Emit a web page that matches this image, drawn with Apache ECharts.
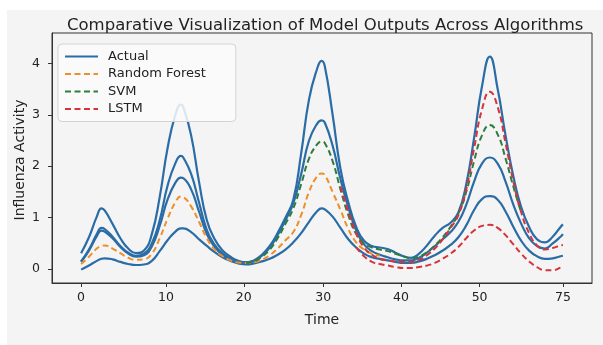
<!DOCTYPE html>
<html>
<head>
<meta charset="utf-8">
<script src="https://cdn.jsdelivr.net/npm/echarts@6/dist/echarts.min.js"></script>
<style>
  html, body { margin: 0; padding: 0; background: #ffffff; }
  #bg { position: absolute; left: 7px; top: 10px; width: 596px; height: 335px; background: #f4f4f4; }
  #chart { position: absolute; left: 0; top: 0; width: 603px; height: 345px; }
</style>
</head>
<body>
<div id="bg"></div>
<div id="chart"></div>
<script>
// time positions (axis units) and where the tick labels sit
var time = [0, 1, 2, 2.6, 3, 4, 5, 6, 7, 8, 9, 10, 11, 12, 12.7, 13, 14, 15, 16, 17, 18, 19, 20, 21, 22, 23, 24, 25, 26, 27, 28, 29, 30, 30.6, 31, 32, 33, 34, 35, 36, 37, 38, 39, 40, 41, 42, 43, 44, 45, 46, 47, 48, 49, 50, 51, 52, 53, 54, 55, 56, 57, 58, 59, 60, 61, 61.3];
var tickPos = [0, 10.8, 20.7, 30.8, 40.7, 50.7, 61.3];
var tickLabels = ["0", "10", "20", "30", "40", "50", "75"];
var yTicks = [0, 1, 2, 3, 4];

// actual (blue) curves
var actualA = [0.31, 0.62, 1.02, 1.18, 1.14, 0.88, 0.6, 0.4, 0.31, 0.36, 0.68, 1.4, 2.35, 3.0, 3.2, 3.15, 2.6, 1.7, 0.95, 0.58, 0.36, 0.24, 0.16, 0.13, 0.17, 0.28, 0.45, 0.7, 1.0, 1.35, 2.25, 3.3, 3.88, 4.05, 3.95, 3.0, 1.95, 1.3, 0.82, 0.55, 0.45, 0.42, 0.39, 0.32, 0.25, 0.22, 0.3, 0.46, 0.65, 0.8, 0.9, 1.1, 1.65, 2.55, 3.55, 4.13, 3.5, 2.6, 1.8, 1.2, 0.82, 0.58, 0.52, 0.63, 0.82, 0.87];
var actualB = [0.15, 0.38, 0.68, 0.8, 0.78, 0.63, 0.45, 0.32, 0.26, 0.3, 0.5, 0.95, 1.62, 2.06, 2.2, 2.17, 1.85, 1.3, 0.76, 0.47, 0.3, 0.2, 0.15, 0.13, 0.16, 0.26, 0.42, 0.66, 0.95, 1.28, 1.85, 2.5, 2.82, 2.89, 2.85, 2.4, 1.75, 1.2, 0.75, 0.48, 0.35, 0.28, 0.23, 0.19, 0.17, 0.17, 0.22, 0.32, 0.45, 0.58, 0.72, 0.92, 1.25, 1.7, 2.05, 2.17, 2.05, 1.7, 1.25, 0.88, 0.6, 0.45, 0.4, 0.5, 0.63, 0.68];
var actualC = [0.14, 0.36, 0.64, 0.75, 0.73, 0.6, 0.43, 0.3, 0.24, 0.27, 0.44, 0.84, 1.35, 1.68, 1.78, 1.77, 1.55, 1.12, 0.68, 0.43, 0.28, 0.19, 0.14, 0.12,
  null, null, null, null, null, null, null, null, null, null, null, null, null, null, null, null, null, null, null, null, null,
  null, null, null, null, null, null, null, null, null, null, null, null, null, null, null, null, null, null, null, null, null];
var actualD = [-0.01, 0.07, 0.16, 0.2, 0.21, 0.19, 0.14, 0.1, 0.08, 0.09, 0.16, 0.35, 0.56, 0.73, 0.79, 0.79, 0.72, 0.58, 0.45, 0.33, 0.23, 0.16, 0.11, 0.09, 0.11, 0.15, 0.2, 0.28, 0.38, 0.52, 0.7, 0.92, 1.12, 1.18, 1.16, 1.02, 0.8, 0.58, 0.42, 0.3, 0.23, 0.2, 0.17, 0.14, 0.12, 0.12, 0.15, 0.2, 0.27, 0.36, 0.47, 0.62, 0.85, 1.15, 1.36, 1.42, 1.35, 1.12, 0.82, 0.55, 0.36, 0.25, 0.2, 0.21, 0.25, 0.26];

// model predictions (dashed)
var randomForest = [0.1, 0.24, 0.4, 0.45, 0.46, 0.4, 0.31, 0.22, 0.18, 0.19, 0.3, 0.6, 0.98, 1.3, 1.41, 1.4, 1.22, 0.92, 0.6, 0.38, 0.25, 0.17, 0.13, 0.12, 0.13, 0.18, 0.27, 0.4, 0.56, 0.72, 1.05, 1.5, 1.8, 1.86, 1.83, 1.5, 1.15, 0.78, 0.52, 0.38, 0.3, 0.26,
  null, null, null, null, null, null, null, null, null, null, null, null, null, null, null, null, null, null, null, null, null, null, null, null];
var svm = [null, null, null, null, null, null, null, null, null, null, null, null, null, null, null, null, null, null, null, null, null, null, null,
  0.12, 0.15, 0.24, 0.38, 0.6, 0.88, 1.18, 1.65, 2.15, 2.42, 2.48, 2.45, 2.1, 1.55, 1.05, 0.68, 0.5, 0.42, 0.38, 0.35, 0.3, 0.25, 0.21, 0.24, 0.33, 0.46, 0.62, 0.82, 1.08, 1.5, 2.1, 2.6, 2.8, 2.62, 2.15, 1.6, 1.1,
  null, null, null, null, null, null];
var lstmHigh = [null, null, null, null, null, null, null, null, null, null, null, null, null, null, null, null, null, null, null, null, null, null, null, null, null, null, null, null, null, null, null, null, null, null, null, null,
  1.6, 1.12, 0.7, 0.42, 0.28, 0.2, 0.17, 0.15, 0.14, 0.14, 0.18, 0.27, 0.4, 0.58, 0.8, 1.05, 1.55, 2.35, 3.1, 3.45, 3.15, 2.45, 1.7, 1.1, 0.7, 0.46, 0.38, 0.41, 0.46, 0.47];
var lstmLow = [null, null, null, null, null, null, null, null, null, null, null, null, null, null, null, null, null, null, null, null, null, null, null, null, null, null, null, null, null, null, null, null, null, null, null, null, null, null,
  0.42, 0.25, 0.14, 0.1, 0.07, 0.04, 0.02, 0.02, 0.04, 0.07, 0.12, 0.2, 0.3, 0.43, 0.6, 0.75, 0.84, 0.86, 0.8, 0.66, 0.48, 0.3, 0.15, 0.04, -0.02, -0.02, 0.03, 0.06];

var FONT = "DejaVu Sans";
var BLUE = "#2a6ca6";

function pairs(vals) {
  return time.map(function (t, i) { return [t, vals[i]]; });
}
function solid(name, vals) {
  return {
    name: name, type: "line", smooth: true, symbol: "none",
    lineStyle: { color: BLUE, width: 2.2 }, itemStyle: { color: BLUE },
    data: pairs(vals)
  };
}
function dashed(name, color, vals) {
  return {
    name: name, type: "line", smooth: true, symbol: "none",
    lineStyle: { color: color, width: 2, type: [6, 3.5] }, itemStyle: { color: color },
    data: pairs(vals)
  };
}

var chart = echarts.init(document.getElementById("chart"));
var option = {
  backgroundColor: "transparent",
  animation: false,
  title: {
    text: "Comparative Visualization of Model Outputs Across Algorithms",
    left: 62, top: 12,
    textStyle: { fontFamily: FONT, fontSize: 16.5, fontWeight: "normal", color: "#222" }
  },
  // y axis title drawn as rotated text
  graphic: [{
    type: "text", x: 20, y: 160, rotation: Math.PI / 2,
    style: {
      text: "Influenza Activity", fontFamily: FONT, fontSize: 14, fill: "#222",
      align: "center", verticalAlign: "middle"
    }
  }],
  legend: {
    data: ["Actual", "Random Forest", "SVM", "LSTM"],
    orient: "vertical", left: 58, top: 44,
    itemWidth: 33, itemHeight: 14, itemGap: 4.5,
    padding: [6, 30, 6, 6],
    itemStyle: { opacity: 0 },
    backgroundColor: "rgba(250,250,250,0.85)",
    borderColor: "#d3d3d3", borderWidth: 1, borderRadius: 4,
    textStyle: { fontFamily: FONT, fontSize: 13, color: "#222", padding: [0, 0, 0, 5] }
  },
  grid: {
    left: 52, right: 11, top: 33, bottom: 62,
    show: true, borderColor: "#333", borderWidth: 1, backgroundColor: "transparent"
  },
  xAxis: {
    type: "value", min: -3.7, max: 65.0,
    name: "Time", nameLocation: "middle", nameGap: 30,
    nameTextStyle: { fontFamily: FONT, fontSize: 14, color: "#222" },
    axisLine: { show: true, onZero: false, lineStyle: { color: "#333" } },
    axisTick: { show: true, length: 4, customValues: tickPos, lineStyle: { color: "#333" } },
    axisLabel: {
      customValues: tickPos, margin: 8,
      fontFamily: FONT, fontSize: 12.5, color: "#222",
      formatter: function (v) { return tickLabels[tickPos.indexOf(v)]; }
    },
    splitLine: { show: false }
  },
  yAxis: {
    type: "value", min: -0.27, max: 4.59,
    axisLine: { show: true, onZero: false, lineStyle: { color: "#333" } },
    axisTick: { show: true, length: 4, customValues: yTicks, lineStyle: { color: "#333" } },
    axisLabel: {
      customValues: yTicks, margin: 12, hideOverlap: false,
      fontFamily: FONT, fontSize: 12.5, color: "#222"
    },
    splitLine: { show: false }
  },
  series: [
    solid("Actual", actualA),
    solid("Actual B", actualB),
    solid("Actual C", actualC),
    solid("Actual D", actualD),
    dashed("Random Forest", "#ee8f2a", randomForest),
    dashed("SVM", "#2e7d3c", svm),
    dashed("LSTM", "#d6333a", lstmHigh),
    dashed("LSTM", "#d6333a", lstmLow)
  ]
};
chart.setOption(option);
</script>
</body>
</html>
